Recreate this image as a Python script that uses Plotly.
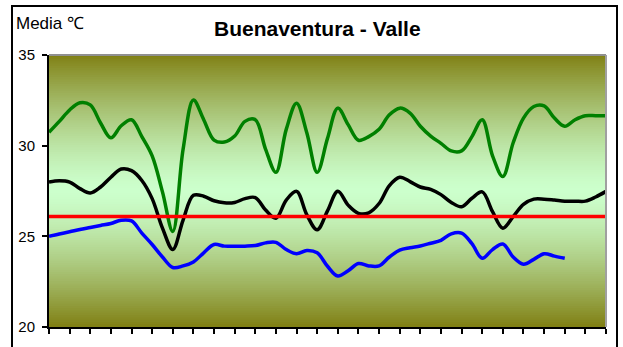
import plotly.graph_objects as go

# ---- data ----
titulo = "Buenaventura - Valle"
eje_y_titulo = "Media ℃"
y_ticks = [20, 25, 30, 35]

temp_max = [30.74, 31.34, 31.97, 32.37, 32.25, 31.25, 30.43, 31.1, 31.43, 30.5,
            29.44, 27.45, 25.27, 29.8, 32.52, 31.43, 30.31, 30.2, 30.53, 31.34,
            31.43, 29.8, 28.53, 30.9, 32.34, 30.7, 28.53, 30.4, 32.07, 31.16,
            30.3, 30.5, 30.9, 31.7, 32.07, 31.8, 31.07, 30.53, 30.13, 29.71,
            29.71, 30.5, 31.43, 29.44, 28.3, 30.16, 31.52, 32.16, 32.19, 31.52,
            31.07, 31.43, 31.65, 31.65, 31.65]

temp_media = [27.99, 28.06, 27.99, 27.63, 27.39, 27.72, 28.26, 28.71, 28.62, 28.08,
              27.08, 25.45, 24.28, 25.9, 27.26, 27.21, 26.96, 26.85, 26.87, 27.08,
              27.14, 26.45, 26.0, 27.0, 27.48, 26.18, 25.36, 26.4, 27.48, 26.72,
              26.27, 26.3, 26.81, 27.8, 28.26, 28.02, 27.72, 27.59, 27.3, 26.87,
              26.63, 27.1, 27.45, 26.36, 25.45, 26.09, 26.76, 27.05, 27.05, 27.0,
              26.94, 26.94, 26.94, 27.17, 27.48]

temp_min = [25.0, 25.13, 25.25, 25.38, 25.49, 25.6, 25.71, 25.89, 25.85, 25.18,
            24.55, 23.86, 23.28, 23.37, 23.59, 24.09, 24.55, 24.46, 24.46, 24.46,
            24.49, 24.64, 24.67, 24.27, 24.04, 24.22, 24.09, 23.35, 22.81, 23.1,
            23.5, 23.37, 23.37, 23.86, 24.24, 24.37, 24.47, 24.62, 24.78, 25.14,
            25.18, 24.6, 23.79, 24.27, 24.58, 23.86, 23.46, 23.73, 24.04, 23.91,
            23.79]

media_anual = 26.1

periodos = list(range(len(temp_max)))

# ---- figure ----
W, H = 623, 347
L, R, T, B = 49, 17, 55, 14
pw, ph = W - L - R, H - T - B

fig = go.Figure()

fig.add_trace(go.Scatter(x=periodos, y=temp_max, mode="lines", hoverinfo="skip",
                         line=dict(color="#008000", width=3.5, shape="spline", smoothing=1.0)))
fig.add_trace(go.Scatter(x=periodos, y=temp_media, mode="lines", hoverinfo="skip",
                         line=dict(color="#000000", width=3.5, shape="spline", smoothing=1.0)))
fig.add_trace(go.Scatter(x=periodos[:len(temp_min)], y=temp_min, mode="lines", hoverinfo="skip",
                         line=dict(color="#0000ff", width=3.5, shape="spline", smoothing=1.0)))
fig.add_trace(go.Scatter(x=[periodos[0], periodos[-1]], y=[media_anual, media_anual], mode="lines",
                         hoverinfo="skip", line=dict(color="#ff0000", width=3.5)))

# background gradient (olive at edges, light green in centre)
shapes = []
n = 120
olive = (128, 128, 20)
light = (204, 255, 204)
for k in range(n):
    t = (k + 0.5) / n
    d = abs(t - 0.5) * 2
    f = d ** 1.4
    c = tuple(int(round(light[j] + (olive[j] - light[j]) * f)) for j in range(3))
    shapes.append(dict(type="rect", xref="x domain", yref="y domain",
                       x0=0, x1=1, y0=1 - (k + 1) / n - 0.002, y1=1 - k / n + 0.002,
                       fillcolor="rgb(%d,%d,%d)" % c, line=dict(width=0), layer="below"))
# plot area grey border (top, right)
shapes.append(dict(type="line", xref="x domain", yref="y domain", x0=0, x1=1, y0=1, y1=1,
                   line=dict(color="#909090", width=2), layer="above"))
shapes.append(dict(type="line", xref="x domain", yref="y domain", x0=1, x1=1, y0=0, y1=1,
                   line=dict(color="#a0a0a0", width=2), layer="above"))
# outer chart frame
def px_x(p):
    return (p - L) / pw
def px_y(p):
    return (H - B - p) / ph
shapes.append(dict(type="rect", xref="paper", yref="paper",
                   x0=px_x(12), x1=px_x(617), y0=px_y(360), y1=px_y(5),
                   line=dict(color="black", width=2), fillcolor="rgba(0,0,0,0)", layer="above"))

fig.update_layout(
    width=W, height=H,
    margin=dict(l=L, r=R, t=T, b=B),
    paper_bgcolor="white",
    plot_bgcolor="#ccffcc",
    showlegend=False,
    hovermode=False,
    shapes=shapes,
    font=dict(family="Liberation Sans, Arial, sans-serif", color="black"),
    annotations=[
        dict(text="<b>%s</b>" % titulo, xref="paper", yref="paper",
             x=px_x(317), y=px_y(28), xanchor="center", yanchor="middle",
             showarrow=False, font=dict(size=21, family="Liberation Sans, Arial, sans-serif")),
        dict(text=eje_y_titulo, xref="paper", yref="paper",
             x=px_x(14), y=px_y(23), xanchor="left", yanchor="middle",
             showarrow=False, font=dict(size=17, family="Liberation Sans, Arial, sans-serif")),
    ],
)

fig.update_xaxes(range=[periodos[0], periodos[-1]], tick0=0, dtick=2, ticks="outside",
                 ticklen=5, tickwidth=2, tickcolor="black", showticklabels=False,
                 showgrid=False, zeroline=False, showline=True, linecolor="black", linewidth=2)
fig.update_yaxes(range=[y_ticks[0], y_ticks[-1]], tickvals=y_ticks, ticks="outside",
                 ticklen=5, tickwidth=2, tickcolor="black",
                 tickfont=dict(size=15, family="Liberation Sans, Arial, sans-serif"),
                 ticklabelstandoff=4,
                 showgrid=False, zeroline=False, showline=True, linecolor="black", linewidth=2)

fig.write_html("out.html", config={"displayModeBar": False, "staticPlot": True},
               post_script="document.body.style.margin='0';document.body.style.overflow='hidden';")
